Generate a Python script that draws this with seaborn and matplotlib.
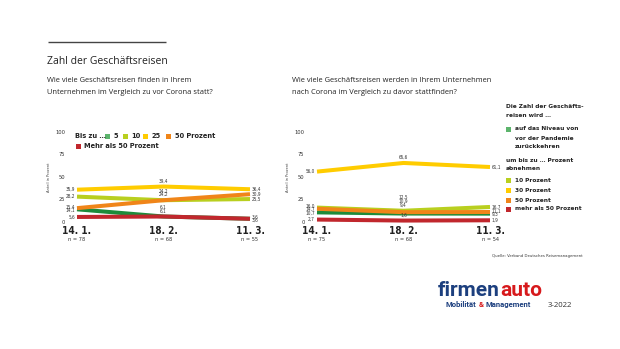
import numpy as np
import pandas as pd
import seaborn as sns
import matplotlib
matplotlib.use("Agg")
import matplotlib.pyplot as plt
from matplotlib.patches import Rectangle
from matplotlib import font_manager as fm

# ---------------- data ----------------
dates = ["14. 1.", "18. 2.", "11. 3."]
n_left = ["n = 78", "n = 68", "n = 55"]
n_right = ["n = 75", "n = 68", "n = 54"]

left_series = ["5", "10", "25", "50 Prozent", "Mehr als 50 Prozent"]
left_bis5 = [14.1, 6.1, 3.6]
left_bis10 = [28.2, 24.2, 25.5]
left_bis25 = [35.9, 39.4, 36.4]
left_bis50 = [15.4, 24.2, 30.9]
left_mehr50 = [5.6, 6.1, 3.6]

right_series = ["auf das Niveau", "10 Prozent", "30 Prozent", "50 Prozent",
                "mehr als 50 Prozent"]
right_niveau = [10.7, 9.4, 9.3]
right_ab10 = [16.0, 12.5, 16.7]
right_ab30 = [56.0, 65.6, 61.1]
right_ab50 = [14.7, 10.9, 11.1]
right_mehr50 = [2.7, 1.6, 1.9]

yticks = [0, 25, 50, 75, 100]
colors = ["#1d8b3a", "#b9cf1f", "#ffcc00", "#f08519", "#c1272d"]
legend_colors = ["#5cb46c", "#b9cf1f", "#ffcc00", "#f08519", "#c1272d"]

sns.set_theme(style="white")

# choose a narrow font if one is installed
names_avail = {f.name for f in fm.fontManager.ttflist}
cond_avail = {f.name for f in fm.fontManager.ttflist
              if str(f.stretch).lower() in ("condensed", "semi-condensed", "semicondensed")
              or (isinstance(f.stretch, int) and f.stretch < 500)}
if "Liberation Sans Narrow" in names_avail:
    NARROW_FAM = "Liberation Sans Narrow"
    STRETCH = "normal"
    SCALE = 1.0
elif "DejaVu Sans" in cond_avail:
    NARROW_FAM = "DejaVu Sans"
    STRETCH = "condensed"
    SCALE = 0.95
else:
    NARROW_FAM = "Liberation Sans"
    STRETCH = "normal"
    SCALE = 0.88

plt.rcParams["font.family"] = [NARROW_FAM, "DejaVu Sans"]

W, H = 620, 349
fig = plt.figure(figsize=(W / 100, H / 100), dpi=100)
fig.patch.set_facecolor("white")

PT = 0.72  # points per pixel
NARROW = dict(family=[NARROW_FAM, "DejaVu Sans"], fontstretch=STRETCH)
SANS = ["Open Sans", "DejaVu Sans"]


def fs(x):
    return x * SCALE


def make_ax(x_first, x_last, y_top=132, y_bot=222, pad_l=9, pad_r=6):
    scale = (x_last - x_first) / 2.0
    x0 = x_first - pad_l
    x1 = x_last + pad_r
    ax = fig.add_axes([x0 / W, 1 - y_bot / H, (x1 - x0) / W, (y_bot - y_top) / H])
    ax.set_xlim(-pad_l / scale, 2 + pad_r / scale)
    ax.set_ylim(0, 100)
    ax.patch.set_alpha(0)
    for s in ax.spines.values():
        s.set_visible(False)
    return ax


def fmt(v):
    return f"{v:.1f}".replace(".", ",")


def spread(pos, gap):
    pos = np.asarray(pos, float)
    order = np.argsort(pos)
    p = pos[order].copy()
    for _ in range(100):
        moved = False
        for i in range(len(p) - 1):
            d = p[i + 1] - p[i]
            if d < gap - 1e-6:
                s = (gap - d) / 2
                p[i] -= s
                p[i + 1] += s
                moved = True
        if not moved:
            break
    out = np.empty_like(p)
    out[order] = p
    return out


def draw_chart(ax, names, values, nlabels, ylab_pad):
    df = pd.DataFrame({
        "x": np.tile(np.arange(len(dates)), len(names)),
        "value": np.concatenate(values),
        "series": np.repeat(names, len(dates)),
    })
    sns.lineplot(data=df, x="x", y="value", hue="series", hue_order=names,
                 palette=dict(zip(names, colors)), linewidth=2.9, legend=False,
                 sort=False, ax=ax)
    for ln in ax.lines:
        ln.set_clip_on(False)
        ln.set_solid_capstyle("butt")
    ax.axhline(0, color="#bbbbbb", lw=0.5, zorder=0)
    ax.set_xlabel("")
    ax.set_ylabel("Anteil in Prozent", fontsize=fs(3.0), color="#444444",
                  labelpad=3, **NARROW)
    ax.set_yticks(yticks)
    ax.set_yticklabels([str(t) for t in yticks], **NARROW)
    ax.tick_params(axis="y", length=0, labelsize=fs(4.4), colors="#333333", pad=ylab_pad)
    ax.set_xticks(range(len(dates)))
    ax.set_xticklabels(dates, fontsize=fs(7.6), fontweight="bold", color="#222222",
                       **NARROW)
    ax.tick_params(axis="x", length=0, pad=3.0)
    for i, nl in enumerate(nlabels):
        ax.text(i, -0.19, nl, transform=ax.get_xaxis_transform(), ha="center",
                va="center", fontsize=fs(4.3), color="#333333", **NARROW)

    upx = 0.9  # pixels per data unit
    for idx, dx, ha in [(0, -2.0, "right"), (2, 2.0, "left")]:
        vals = [v[idx] for v in values]
        pos = spread([v * upx for v in vals], 3.8)
        for v, p in zip(vals, pos):
            ax.annotate(fmt(v), xy=(idx, v), xytext=(dx * PT, (p - v * upx) * PT),
                        textcoords="offset points", ha=ha, va="center",
                        fontsize=fs(3.6), color="#333333",
                        annotation_clip=False, **NARROW)
    vals = sorted([v[1] for v in values])
    clusters = [[vals[0]]]
    for v in vals[1:]:
        if v - clusters[-1][-1] < 6:
            clusters[-1].append(v)
        else:
            clusters.append([v])
    for cl in clusters:
        base = max(cl) * upx + 5.5
        for k, v in enumerate(cl):
            ypx = base + k * 3.8
            ax.annotate(fmt(v), xy=(1, v), xytext=(0, (ypx - v * upx) * PT),
                        textcoords="offset points", ha="center", va="center",
                        fontsize=fs(3.6), color="#333333",
                        annotation_clip=False, **NARROW)


axL = make_ax(77, 250)
draw_chart(axL, left_series,
           [left_bis5, left_bis10, left_bis25, left_bis50, left_mehr50],
           n_left, 2.0)
axR = make_ax(317, 490)
draw_chart(axR, right_series,
           [right_niveau, right_ab10, right_ab30, right_ab50, right_mehr50],
           n_right, 2.5)

# ---------------- overlay for text decorations ----------------
ov = fig.add_axes([0, 0, 1, 1])
ov.set_xlim(0, W)
ov.set_ylim(H, 0)
ov.axis("off")
ov.patch.set_alpha(0)

ov.plot([48, 166], [42, 42], color="#444444", lw=1.0, solid_capstyle="butt")
ov.text(47, 62, "Zahl der Geschäftsreisen", fontsize=7.5, family=SANS,
        color="#222222", va="center", ha="left")
ov.text(47, 81, "Wie viele Geschäftsreisen finden in Ihrem", fontsize=5.4,
        family=SANS, color="#222222", va="center")
ov.text(47, 92, "Unternehmen im Vergleich zu vor Corona statt?", fontsize=5.4,
        family=SANS, color="#222222", va="center")
ov.text(292, 81, "Wie viele Geschäftsreisen werden in Ihrem Unternehmen",
        fontsize=5.4, family=SANS, color="#222222", va="center")
ov.text(292, 92, "nach Corona im Vergleich zu davor stattfinden?",
        fontsize=5.4, family=SANS, color="#222222", va="center")

# left legend
LF = dict(fontsize=fs(5.6), fontweight="bold", color="#222222", va="center", **NARROW)
ov.text(75, 136, "Bis zu …", **LF)
for xs, xt, lab, c in [(105, 113, "5", legend_colors[0]),
                       (123, 131, "10", legend_colors[1]),
                       (143, 152, "25", legend_colors[2]),
                       (166, 175, "50 Prozent", legend_colors[3])]:
    ov.add_patch(Rectangle((xs, 133.5), 5, 5, color=c, lw=0))
    ov.text(xt, 136, lab, **LF)
ov.add_patch(Rectangle((76, 143.5), 5, 5, color=legend_colors[4], lw=0))
ov.text(84, 146, "Mehr als 50 Prozent", **LF)

# right legend
RF = dict(fontsize=fs(4.9), fontweight="bold", color="#222222", va="center", **NARROW)
ov.text(506, 107, "Die Zahl der Geschäfts-", **RF)
ov.text(506, 115.5, "reisen wird …", **RF)
ov.add_patch(Rectangle((506, 126.5), 5, 5, color=legend_colors[0], lw=0))
ov.text(515, 129, "auf das Niveau von", **RF)
ov.text(515, 138, "vor der Pandemie", **RF)
ov.text(515, 147, "zurückkehren", **RF)
ov.text(506, 160, "um bis zu … Prozent", **RF)
ov.text(506, 168.5, "abnehmen", **RF)
for y, lab, c in [(180, "10 Prozent", legend_colors[1]),
                  (190, "30 Prozent", legend_colors[2]),
                  (200, "50 Prozent", legend_colors[3]),
                  (209, "mehr als 50 Prozent", legend_colors[4])]:
    ov.add_patch(Rectangle((506, y - 2.5), 5, 5, color=c, lw=0))
    ov.text(515, y, lab, **RF)

ov.text(492, 256, "Quelle: Verband Deutsches Reisemanagement", fontsize=fs(3.2),
        color="#333333", va="center", **NARROW)

# logo: pieces placed on a common baseline, using measured widths
BLUE = "#1c3f7e"
RED = "#d7191c"
LOGO = ["Roboto", "DejaVu Sans"]
renderer = fig.canvas.get_renderer()


def chain(x, y, parts, size, gap=0.0):
    for txt, col in parts:
        t = ov.text(x, y, txt, fontsize=size, family=LOGO, fontweight="bold",
                    color=col, va="baseline", ha="left")
        w = t.get_window_extent(renderer).width
        x += w + gap


chain(438, 295.5, [("firmen", BLUE), ("auto", RED)], 15)
chain(446, 307, [("Mobilität", BLUE), ("&", RED), ("Management", BLUE)], 5.5, gap=2.0)
ov.text(548, 307, "3-2022", fontsize=5.6, family=SANS, color="#333333", va="baseline")

fig.savefig("out.png", dpi=100, facecolor="white")
